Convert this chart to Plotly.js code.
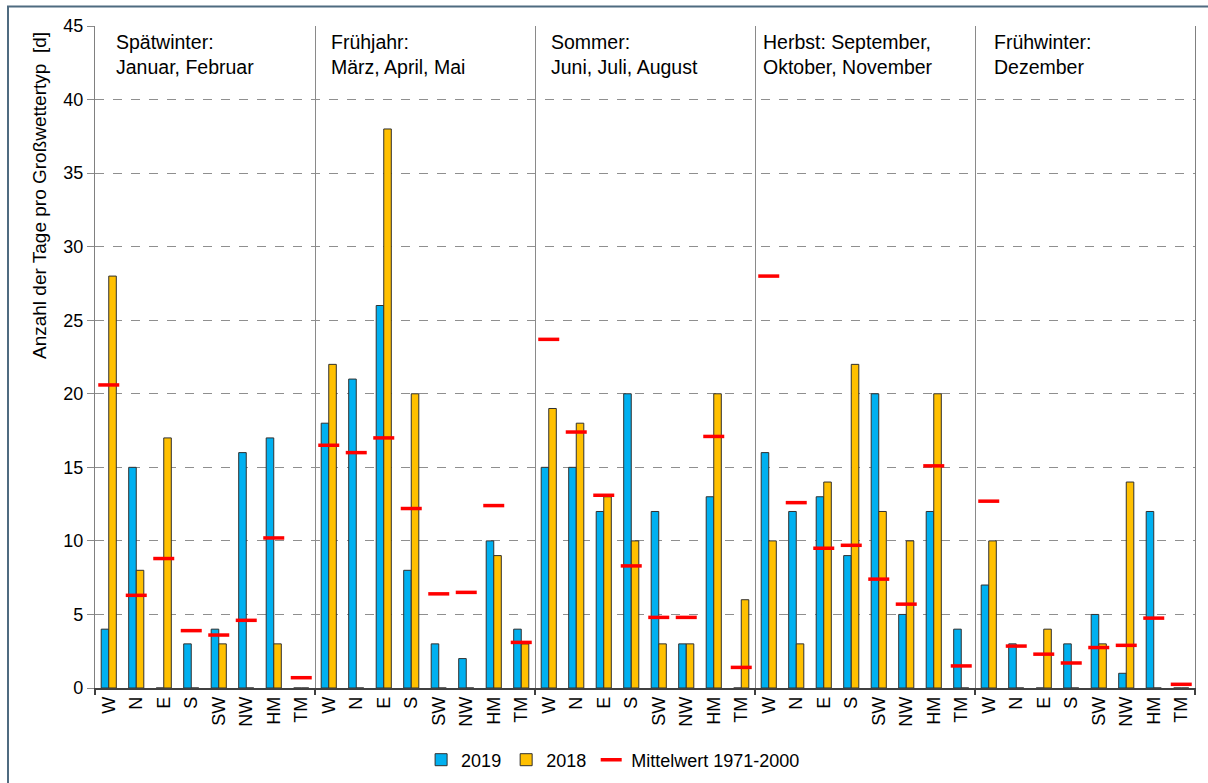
<!DOCTYPE html>
<html>
<head>
<meta charset="utf-8">
<script src="https://cdn.plot.ly/plotly-3.0.1.min.js"></script>
<style>
  html, body { margin: 0; padding: 0; background: #ffffff; }
  #chart { width: 1208px; height: 783px; }
</style>
</head>
<body>
<div id="chart"></div>
<script>
// ---- data ----
const seasons = [
  "Spätwinter:<br>Januar, Februar",
  "Frühjahr:<br>März, April, Mai",
  "Sommer:<br>Juni, Juli, August",
  "Herbst: September,<br>Oktober, November",
  "Frühwinter:<br>Dezember"
];
const types = ["W", "N", "E", "S", "SW", "NW", "HM", "TM"];

// values per season, order of types: W, N, E, S, SW, NW, HM, TM
const y2019 = [
  [4, 15, 0, 3, 4, 16, 17, 0],        // Spätwinter
  [18, 21, 26, 8, 3, 2, 10, 4],       // Frühjahr
  [15, 15, 12, 20, 12, 3, 13, 0],     // Sommer
  [16, 12, 13, 9, 20, 5, 12, 4],      // Herbst
  [7, 3, 0, 3, 5, 1, 12, 0]           // Frühwinter
];
const y2018 = [
  [28, 8, 17, 0, 3, 0, 3, 0],
  [22, 0, 38, 20, 0, 0, 9, 3],
  [19, 18, 13, 10, 3, 3, 20, 6],
  [10, 3, 14, 22, 12, 10, 20, 0],
  [10, 0, 4, 0, 3, 14, 0, 0]
];
const mean7100 = [
  [20.6, 6.3, 8.8, 3.9, 3.6, 4.6, 10.2, 0.7],
  [16.5, 16.0, 17.0, 12.2, 6.4, 6.5, 12.4, 3.1],
  [23.7, 17.4, 13.1, 8.3, 4.8, 4.8, 17.1, 1.4],
  [28.0, 12.6, 9.5, 9.7, 7.4, 5.7, 15.1, 1.5],
  [12.7, 2.85, 2.3, 1.7, 2.75, 2.9, 4.75, 0.25]
];
const seriesNames = ["2019", "2018", "Mittelwert 1971-2000"];
const yTitle = "Anzahl der Tage pro Großwettertyp  [d]";

// ---- build ----
const xs = [], tickText = [], v19 = [], v18 = [], vm = [];
seasons.forEach((s, si) => {
  types.forEach((t, ti) => {
    xs.push(si * types.length + ti);
    tickText.push(t);
    v19.push(y2019[si][ti]);
    v18.push(y2018[si][ti]);
    vm.push(mean7100[si][ti]);
  });
});
const n = xs.length;
const bounds = seasons.map((s, si) => si * types.length - 0.5).concat([n - 0.5]);

const FONT = "Liberation Sans, Arial, sans-serif";

const traces = [
  {
    type: "bar", name: seriesNames[0], x: xs, y: v19,
    marker: { color: "#00B0F0", line: { color: "#303030", width: 1 } },
    hoverinfo: "y"
  },
  {
    type: "bar", name: seriesNames[1], x: xs, y: v18,
    marker: { color: "#FFC000", line: { color: "#303030", width: 1 } },
    hoverinfo: "y"
  },
  {
    type: "scatter", mode: "markers", name: seriesNames[2], x: xs, y: vm,
    marker: { symbol: "line-ew", size: 15, color: "#FF0000", line: { color: "#FF0000", width: 3.5 } },
    hoverinfo: "y"
  },
  // invisible trace on xaxis2 for season boundary ticks / separators
  {
    type: "scatter", mode: "markers", x: [bounds[0], bounds[bounds.length - 1]], y: [0, 0],
    xaxis: "x2", yaxis: "y", marker: { opacity: 0 }, showlegend: false, hoverinfo: "skip"
  }
];

const seasonX = [0.2, 8.0, 16.0, 23.7, 32.1];
const annotations = seasons.map((s, si) => ({
  text: s, xref: "x", yref: "y", x: seasonX[si], y: 45,
  xanchor: "left", yanchor: "top", yshift: -3, align: "left", showarrow: false,
  font: { family: FONT, size: 19.5, color: "#000000" }
}));
annotations.push({
  text: yTitle, xref: "paper", yref: "paper",
  x: (40 - 95) / 1100, y: (688 - 196) / 662,
  xanchor: "center", yanchor: "middle", textangle: -90, showarrow: false,
  font: { family: FONT, size: 19, color: "#000000" }
});

const layout = {
  width: 1208, height: 783,
  margin: { l: 95, r: 13, t: 26, b: 95, autoexpand: false },
  paper_bgcolor: "#ffffff", plot_bgcolor: "#ffffff",
  font: { family: FONT, size: 18, color: "#000000" },
  barmode: "group", bargap: 0.45, bargroupgap: 0,
  showlegend: true,
  legend: {
    orientation: "h", x: 0.471, xanchor: "center",
    yref: "container", y: (783 - 760) / 783, yanchor: "middle",
    font: { family: FONT, size: 18, color: "#000000" },
    itemwidth: 30, tracegroupgap: 0, bgcolor: "rgba(0,0,0,0)"
  },
  xaxis: {
    range: [-0.5, n - 0.5], tickmode: "array", tickvals: xs, ticktext: tickText,
    tickangle: -90, ticks: "", showgrid: false, zeroline: false,
    showline: true, linecolor: "#404040", linewidth: 1.5, mirror: false,
    tickfont: { family: FONT, size: 18, color: "#000000" }, fixedrange: true
  },
  xaxis2: {
    overlaying: "x", anchor: "y", side: "bottom",
    range: [-0.5, n - 0.5], tickmode: "array", tickvals: bounds,
    ticks: "outside", ticklen: 6, tickcolor: "#404040", tickwidth: 1.5,
    showticklabels: false, showgrid: true, gridcolor: "#8a8a8a", gridwidth: 1,
    zeroline: false, showline: false
  },
  yaxis: {
    range: [0, 45], dtick: 5, tick0: 0,
    ticks: "outside", ticklen: 7, tickcolor: "#8a8a8a",
    showgrid: true, gridcolor: "#8f8f8f", griddash: "dash", gridwidth: 1,
    zeroline: false, showline: true, linecolor: "#808080", linewidth: 1.2, mirror: true,
    tickfont: { family: FONT, size: 18, color: "#000000" }, fixedrange: true
  },
  annotations: annotations,
  shapes: [
    { type: "line", xref: "paper", yref: "paper", x0: -0.08, x1: 1.2, y0: (688 - 6.5) / 662, y1: (688 - 6.5) / 662,
      line: { color: "#4f6b80", width: 2 } },
    { type: "line", xref: "paper", yref: "paper", x0: (8 - 95) / 1100, x1: (8 - 95) / 1100, y0: -0.3, y1: (688 - 6.5) / 662,
      line: { color: "#4f6b80", width: 2 } }
  ]
};

Plotly.newPlot("chart", traces, layout, { displayModeBar: false, staticPlot: true });
</script>
</body>
</html>
